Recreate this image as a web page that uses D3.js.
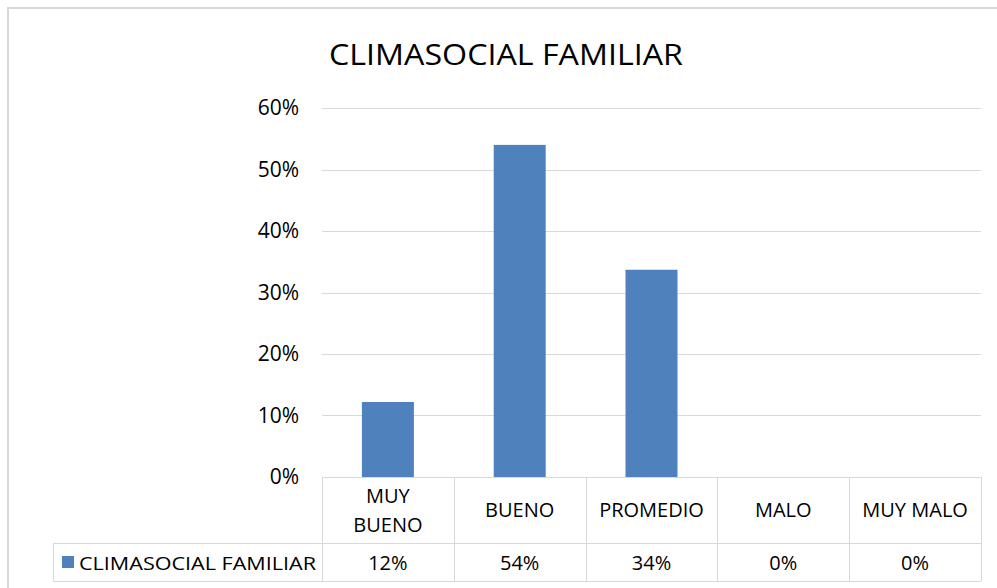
<!DOCTYPE html>
<html>
<head>
<meta charset="utf-8">
<script src="https://cdn.jsdelivr.net/npm/d3@7"></script>
<style>
  body { margin: 0; background: #fff; }
  text { font-family: "Open Sans", "Liberation Sans", sans-serif; fill: #000; }
</style>
</head>
<body>
<div id="chart"></div>
<script>
var categories = ["MUY BUENO", "BUENO", "PROMEDIO", "MALO", "MUY MALO"]
var values = [0.122, 0.54, 0.337, 0, 0]
var tableLabels = ["12%", "54%", "34%", "0%", "0%"]
var seriesName = "CLIMASOCIAL FAMILIAR"
var yTicks = [0, 0.1, 0.2, 0.3, 0.4, 0.5, 0.6]

var width = 997, height = 588
var svg = d3.select("#chart").append("svg").attr("width", width).attr("height", height)

// chart frame
svg.append("rect").attr("x", 8).attr("y", 8).attr("width", 1000).attr("height", 600)
  .attr("fill", "none").attr("stroke", "#d9d9d9").attr("stroke-width", 2)

var plotLeft = 322, plotRight = 981, plotTop = 108, plotBottom = 477
var x = d3.scaleBand().domain(categories).range([plotLeft, plotRight])
var y = d3.scaleLinear().domain([0, 0.6]).range([plotBottom, plotTop])

// title
svg.append("text").text(seriesName)
  .attr("x", 506).attr("y", 65).attr("text-anchor", "middle")
  .style("font-size", "29px")
  .attr("textLength", 354).attr("lengthAdjust", "spacingAndGlyphs")

// gridlines
svg.append("g").selectAll("line").data(yTicks.slice(1)).enter().append("line")
  .attr("x1", plotLeft).attr("x2", plotRight)
  .attr("y1", function(d){return Math.round(y(d)) + 0.5})
  .attr("y2", function(d){return Math.round(y(d)) + 0.5})
  .attr("stroke", "#d9d9d9").attr("stroke-width", 1)

// y labels
svg.append("g").selectAll("text").data(yTicks).enter().append("text")
  .text(d3.format(".0%"))
  .attr("x", 299).attr("y", function(d){return y(d) + 7})
  .attr("text-anchor", "end").style("font-size", "21px")

// bars
var barW = 52
svg.append("g").selectAll("rect").data(values).enter().append("rect")
  .attr("x", function(d,i){return x(categories[i]) + (x.bandwidth() - barW) / 2})
  .attr("width", barW)
  .attr("y", function(d){return y(d)})
  .attr("height", function(d){return plotBottom - y(d)})
  .attr("fill", "#4f81bd")

// data table
var rowTop = plotBottom, rowMid = 543, rowBot = 581, legLeft = 53
var grid = svg.append("g").attr("stroke", "#d9d9d9").attr("stroke-width", 1)
var colEdges = categories.map(function(c){return x(c)}).concat([plotRight])
grid.selectAll("line.v").data(colEdges).enter().append("line")
  .attr("x1", function(d){return Math.round(d) + 0.5}).attr("x2", function(d){return Math.round(d) + 0.5})
  .attr("y1", rowTop).attr("y2", rowBot)
grid.append("line").attr("x1", plotLeft).attr("x2", plotRight).attr("y1", rowTop + 0.5).attr("y2", rowTop + 0.5)
grid.append("line").attr("x1", legLeft).attr("x2", plotRight).attr("y1", rowMid + 0.5).attr("y2", rowMid + 0.5)
grid.append("line").attr("x1", legLeft).attr("x2", plotRight).attr("y1", rowBot + 0.5).attr("y2", rowBot + 0.5)
grid.append("line").attr("x1", legLeft + 0.5).attr("x2", legLeft + 0.5).attr("y1", rowMid).attr("y2", rowBot)

// category labels
var catG = svg.append("g").selectAll("text").data(categories).enter().append("text")
  .attr("text-anchor", "middle").style("font-size", "20px")
catG.each(function(d){
  var t = d3.select(this)
  var cx = x(d) + x.bandwidth() / 2
  var words = (d == "MUY BUENO") ? ["MUY", "BUENO"] : [d]
  var y0 = words.length > 1 ? 503 : 517
  words.forEach(function(w, j){
    t.append("tspan").text(w).attr("x", cx).attr("y", y0 + j * 29)
  })
})

// values row
svg.append("g").selectAll("text").data(tableLabels).enter().append("text")
  .text(function(d){return d})
  .attr("x", function(d,i){return x(categories[i]) + x.bandwidth() / 2})
  .attr("y", 570).attr("text-anchor", "middle").style("font-size", "20px")

// legend key in table
svg.append("rect").attr("x", 62).attr("y", 556).attr("width", 12).attr("height", 12).attr("fill", "#4f81bd")
svg.append("text").text(seriesName).attr("x", 79).attr("y", 570).style("font-size", "19px")
  .attr("textLength", 237).attr("lengthAdjust", "spacingAndGlyphs")
</script>
</body>
</html>
